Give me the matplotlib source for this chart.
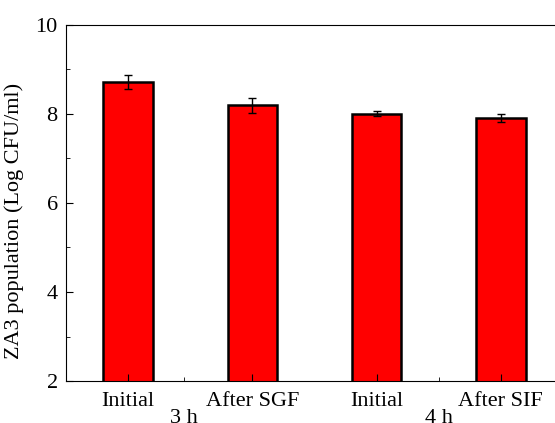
import numpy as np
import matplotlib.pyplot as plt
from matplotlib.ticker import MultipleLocator, FixedLocator

plt.rcParams['font.family'] = ['Liberation Serif', 'DejaVu Serif']

labels = ['Initial', 'After SGF', 'Initial', 'After SIF']
values = [8.72, 8.20, 8.01, 7.92]
errors = [0.15, 0.17, 0.06, 0.09]
groups = ['3 h', '4 h']

x = np.arange(1, len(values) + 1)

fig = plt.figure(figsize=(5.55, 4.23), dpi=100)
ax = fig.add_axes([66 / 555, 42 / 423, 497 / 555, 356 / 423])

ax.bar(x, values, width=0.4, color='#ff0000', edgecolor='black', linewidth=1.8,
       yerr=errors, capsize=3, error_kw=dict(elinewidth=1, capthick=1, ecolor='black'))

ax.set_xlim(0.5, 4.5)
ax.set_ylim(2, 10)
ax.yaxis.set_major_locator(MultipleLocator(2))
ax.yaxis.set_minor_locator(MultipleLocator(1))
ax.set_xticks(x)
ax.set_xticklabels(labels)
ax.xaxis.set_minor_locator(FixedLocator([1.45, 3.5]))
ax.set_xticklabels(groups, minor=True)
ax.tick_params(which='both', direction='in', labelsize=16)
ax.tick_params(axis='x', which='major', length=5, pad=8)
ax.tick_params(axis='x', which='minor', length=3, pad=20)
ax.tick_params(axis='y', which='major', length=5, pad=6)
ax.tick_params(axis='y', which='minor', length=3)
ax.set_ylabel('ZA3 population (Log CFU/ml)', fontsize=16)
ax.yaxis.set_label_coords(-0.085, 0.45)

fig.savefig('out.png', dpi=100)
